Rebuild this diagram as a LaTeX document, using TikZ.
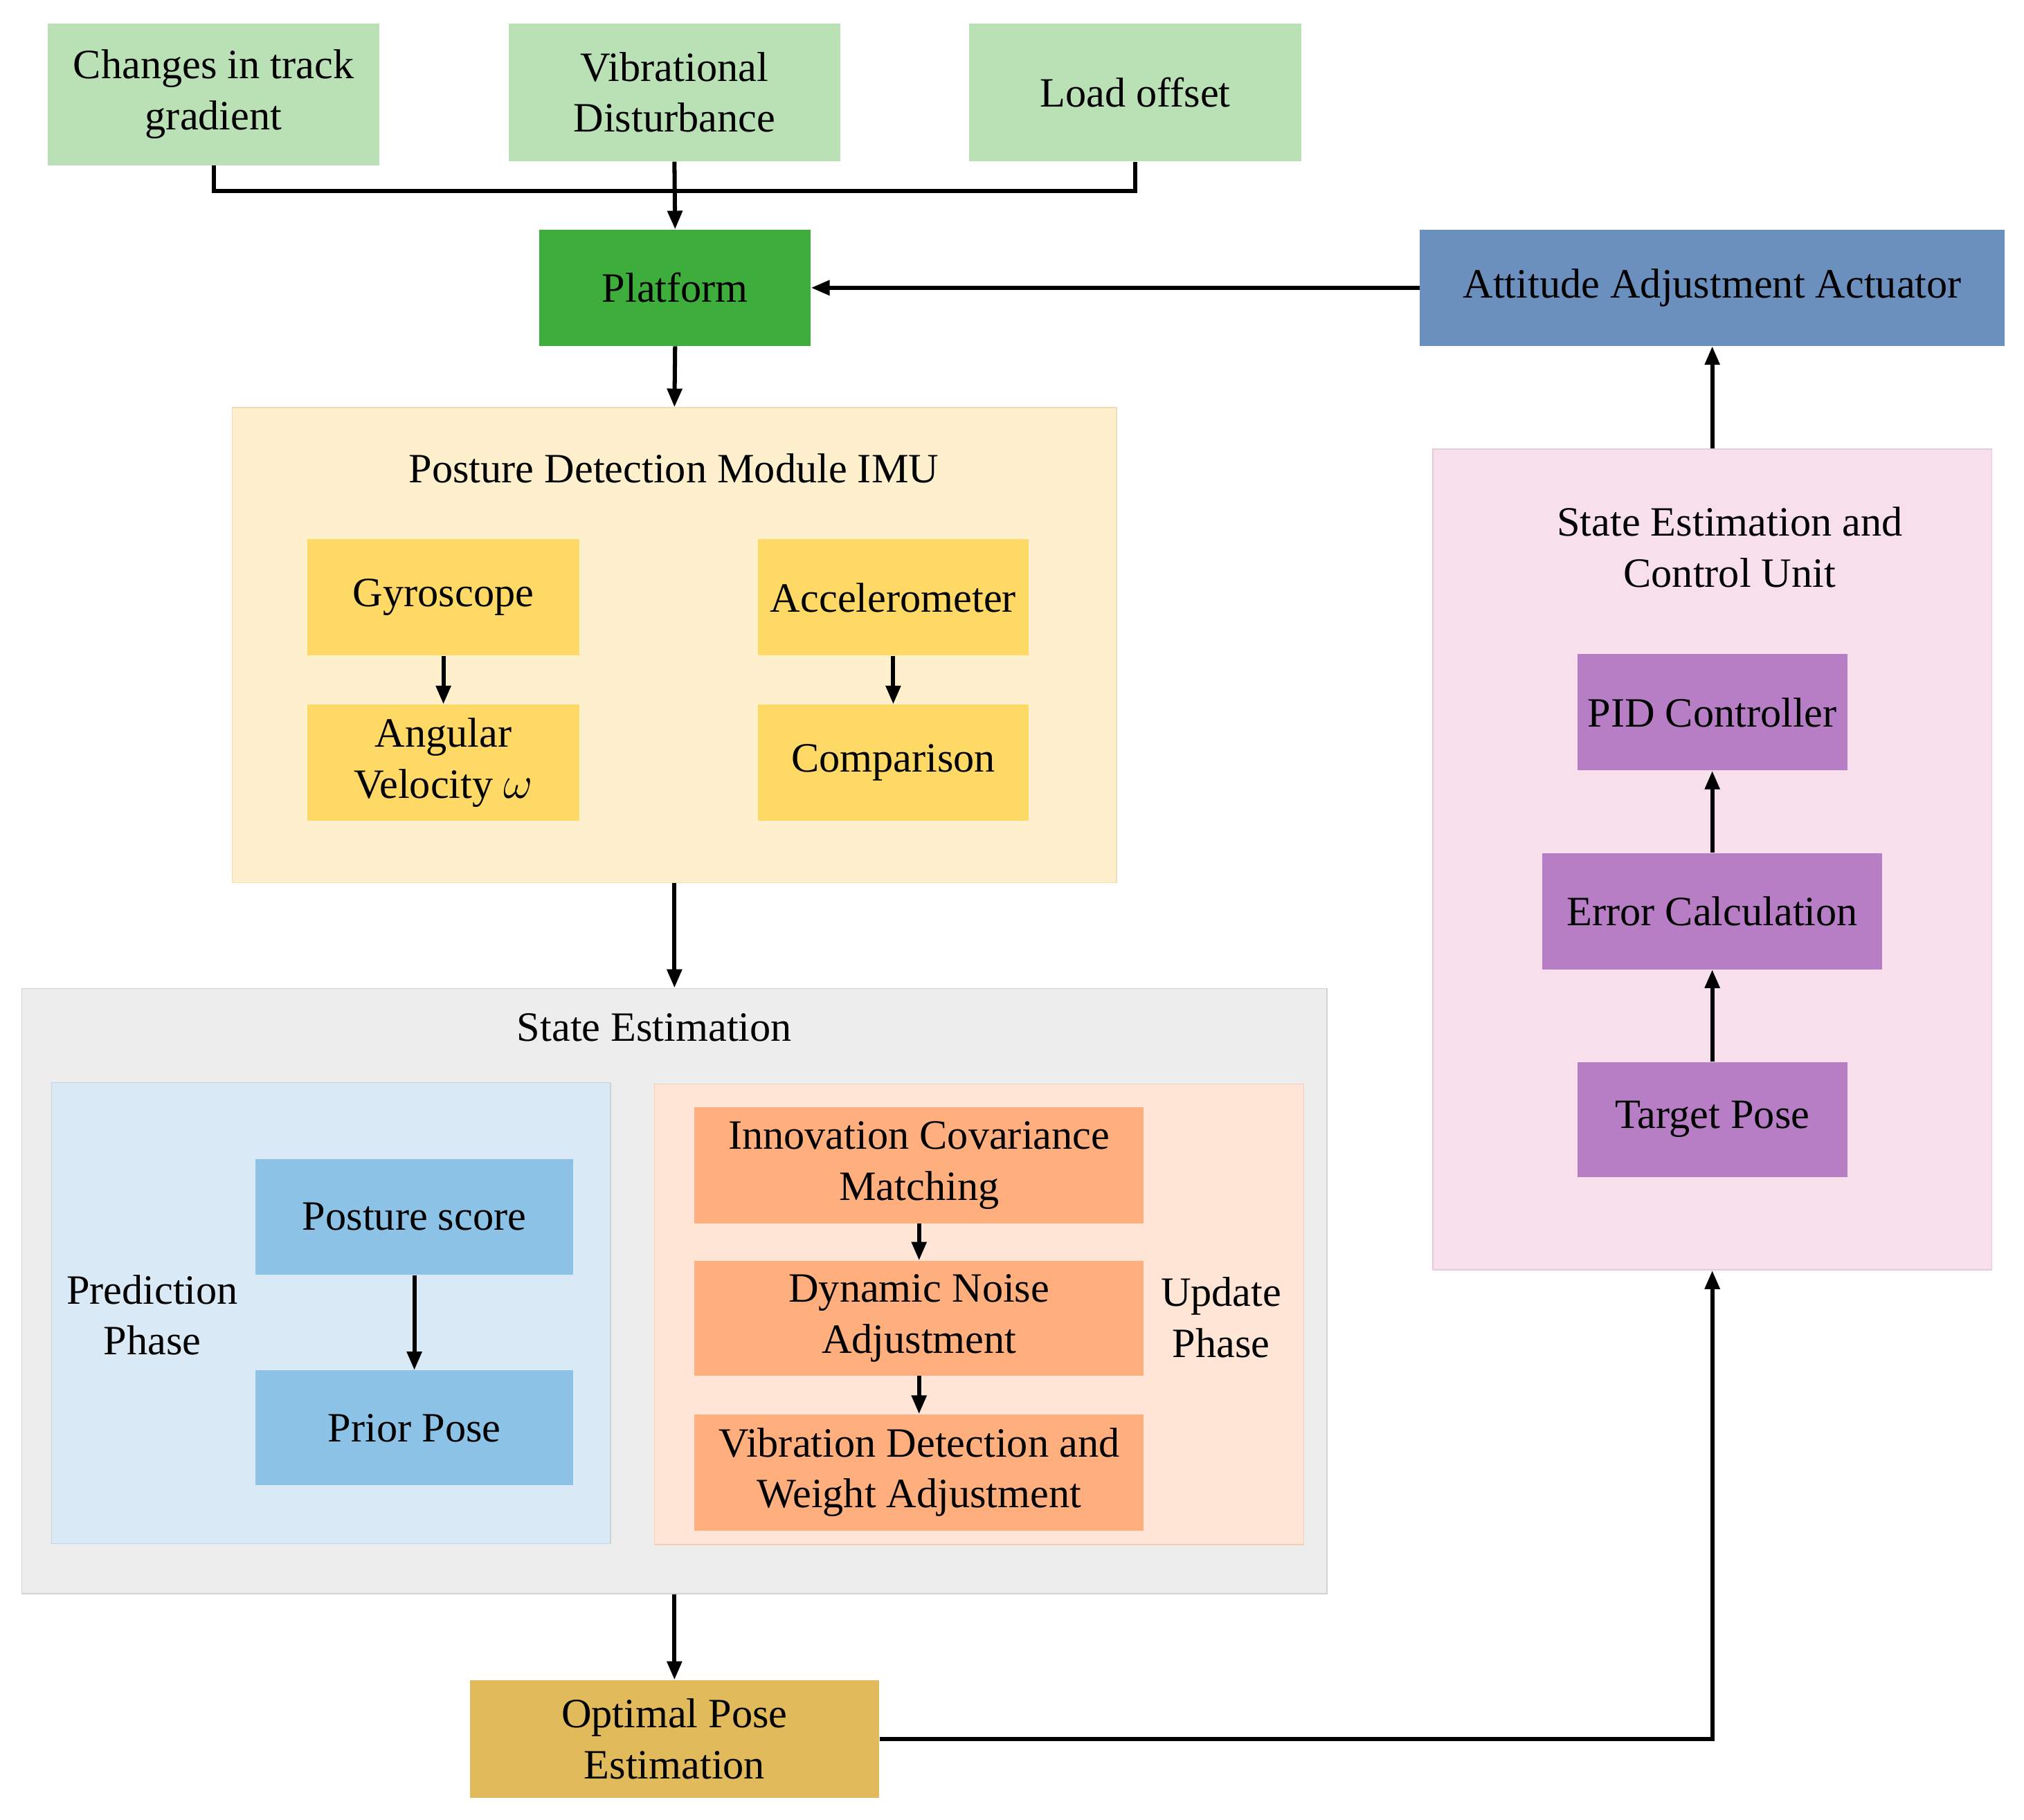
\documentclass[tikz,border=0pt]{standalone}
\usepackage{fontspec}
\setmainfont{Liberation Serif}
\usetikzlibrary{arrows.meta}
\definecolor{cgreenl}{HTML}{BAE0B5}
\definecolor{cgreen}{HTML}{3DAE3C}
\definecolor{cact}{HTML}{6B90BE}
\definecolor{cyell}{HTML}{FFF0CD}
\definecolor{cyellb}{HTML}{F0DCB4}
\definecolor{cyelbox}{HTML}{FFD966}
\definecolor{cgray}{HTML}{EDEDED}
\definecolor{cgrayb}{HTML}{D2D2D2}
\definecolor{cbluel}{HTML}{DAE9F6}
\definecolor{cbluelb}{HTML}{C9D3DC}
\definecolor{cblue}{HTML}{8BC2E6}
\definecolor{cpeach}{HTML}{FFE5D5}
\definecolor{cpeachb}{HTML}{F2CDB8}
\definecolor{corange}{HTML}{FFAF7E}
\definecolor{cgold}{HTML}{E1BA5B}
\definecolor{cpink}{HTML}{F7E0EC}
\definecolor{cpinkb}{HTML}{E6CAD8}
\definecolor{cpurple}{HTML}{B87EC5}
\begin{document}
\begin{tikzpicture}[x=0.025cm,y=-0.025cm,
  every node/.style={font=\fontsize{23}{28}\selectfont, align=center},
  box/.style={rectangle, inner sep=0pt, draw=none},
  cont/.style={rectangle, inner sep=0pt, line width=0.6pt},
  conn/.style={line width=2.3pt, draw=black},
  arr/.style={conn, -{Triangle[length=0.36cm,width=0.28cm]}}
]
\useasboundingbox[fill=white] (0,0) rectangle (1568,1410);

% containers
\node[cont, fill=cyell, draw=cyellb, minimum width=17.125cm, minimum height=9.2cm] (imu) at (522.5,500) {};
\node[cont, fill=cgray, draw=cgrayb, minimum width=25.275cm, minimum height=11.725cm] (se) at (522.5,1000.5) {};
\node[cont, fill=cbluel, draw=cbluelb, minimum width=10.825cm, minimum height=8.925cm] (pred) at (256.5,1017.5) {};
\node[cont, fill=cpeach, draw=cpeachb, minimum width=12.575cm, minimum height=8.925cm] (upd) at (758.5,1018.5) {};
\node[cont, fill=cpink, draw=cpinkb, minimum width=10.825cm, minimum height=15.9cm] (secu) at (1326.5,666) {};

% titles
\node (imutitle) at (522,363) {Posture Detection Module IMU};
\node (setitle) at (507,796) {State Estimation};
\node (secutitle) at (1340,424) {State Estimation and\\Control Unit};
\node (predlabel) at (118,1019) {Prediction\\Phase};
\node (updlabel) at (946,1021) {Update\\Phase};

% top disturbances
\node[box, fill=cgreenl, minimum width=6.425cm, minimum height=2.75cm] (chg) at (165.5,73) {Changes in track\\gradient};
\node[box, fill=cgreenl, minimum width=6.425cm, minimum height=2.675cm] (vib) at (522.5,71.5) {Vibrational\\Disturbance};
\node[box, fill=cgreenl, minimum width=6.425cm, minimum height=2.675cm] (load) at (879.5,71.5) {Load offset};

\node[box, fill=cgreen, minimum width=5.25cm, minimum height=2.25cm] (plat) at (523,223) {Platform};
\node[box, fill=cact, minimum width=11.325cm, minimum height=2.25cm] (act) at (1326.5,223) {Attitude Adjustment Actuator};

% IMU boxes
\node[box, fill=cyelbox, minimum width=5.275cm, minimum height=2.25cm] (gyro) at (343.5,463) {Gyroscope};
\node[box, fill=cyelbox, minimum width=5.275cm, minimum height=2.25cm] (angv) at (343.5,591) {Angular\\Velocity $\omega$};
\node[box, fill=cyelbox, minimum width=5.25cm, minimum height=2.25cm] (acc) at (692,463) {Accelerometer};
\node[box, fill=cyelbox, minimum width=5.25cm, minimum height=2.25cm] (comp) at (692,591) {Comparison};

% prediction
\node[box, fill=cblue, minimum width=6.15cm, minimum height=2.25cm] (ps) at (321,943) {Posture score};
\node[box, fill=cblue, minimum width=6.15cm, minimum height=2.225cm] (pp) at (321,1106.5) {Prior Pose};

% update
\node[box, fill=corange, minimum width=8.7cm, minimum height=2.25cm] (icm) at (712,903) {Innovation Covariance\\Matching};
\node[box, fill=corange, minimum width=8.7cm, minimum height=2.225cm] (dna) at (712,1021.5) {Dynamic Noise\\Adjustment};
\node[box, fill=corange, minimum width=8.7cm, minimum height=2.25cm] (vdw) at (712,1141) {Vibration Detection and\\Weight Adjustment};

\node[box, fill=cgold, minimum width=7.925cm, minimum height=2.275cm] (ope) at (522.5,1347.5) {Optimal Pose\\Estimation};

% control unit
\node[box, fill=cpurple, minimum width=5.225cm, minimum height=2.25cm] (pid) at (1326.5,552) {PID Controller};
\node[box, fill=cpurple, minimum width=6.575cm, minimum height=2.25cm] (err) at (1326.5,706) {Error Calculation};
\node[box, fill=cpurple, minimum width=5.225cm, minimum height=2.225cm] (tgt) at (1326.5,867.5) {Target Pose};

% connectors
\coordinate (bus) at (522.5,148);
\draw[conn] (chg.south) |- (bus) -| (load.south);
\draw[arr] (vib.south) -- (plat.north);
\draw[arr] (act.west) -- (plat.east);
\draw[arr] (plat.south) -- (imu.north);
\draw[arr] (gyro.south) -- (angv.north);
\draw[arr] (acc.south) -- (comp.north);
\draw[arr] (imu.south) -- (se.north);
\draw[arr] (ps.south) -- (pp.north);
\draw[arr] (icm.south) -- (dna.north);
\draw[arr] (dna.south) -- (vdw.north);
\draw[arr] (se.south) -- (ope.north);
\draw[arr] (ope.east) -| (secu.south);
\draw[arr] (tgt.north) -- (err.south);
\draw[arr] (err.north) -- (pid.south);
\draw[arr] (secu.north) -- (act.south);
\end{tikzpicture}
\end{document}
